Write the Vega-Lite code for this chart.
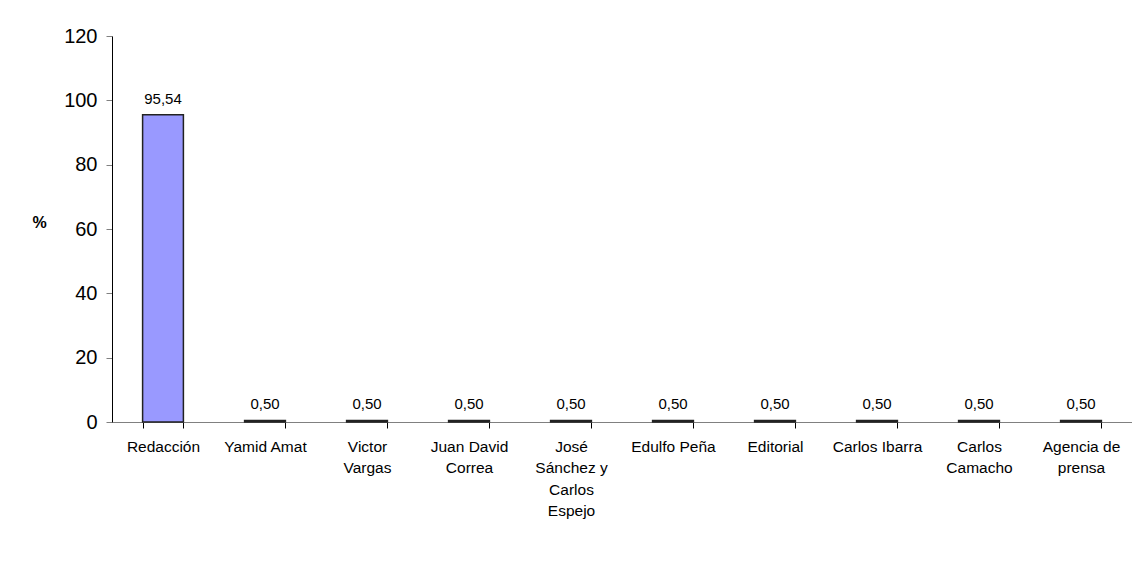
{
  "$schema": "https://vega.github.io/schema/vega-lite/v6.json",
  "autosize": {"type": "none"},
  "width": 1020,
  "height": 386,
  "padding": {"left": 112, "top": 36, "right": 0, "bottom": 151},
  "background": "white",
  "config": {
    "font": "Liberation Sans",
    "view": {"stroke": null},
    "locale": {"number": {"decimal": ",", "thousands": ".", "grouping": [3], "currency": ["", ""]}}
  },
  "data": {
    "values": [
      {"autor": "Redacción", "porcentaje": 95.54},
      {"autor": "Yamid Amat", "porcentaje": 0.5},
      {"autor": "Victor Vargas", "porcentaje": 0.5},
      {"autor": "Juan David Correa", "porcentaje": 0.5},
      {"autor": "José Sánchez y Carlos Espejo", "porcentaje": 0.5},
      {"autor": "Edulfo Peña", "porcentaje": 0.5},
      {"autor": "Editorial", "porcentaje": 0.5},
      {"autor": "Carlos Ibarra", "porcentaje": 0.5},
      {"autor": "Carlos Camacho", "porcentaje": 0.5},
      {"autor": "Agencia de prensa", "porcentaje": 0.5}
    ]
  },
  "encoding": {
    "x": {
      "field": "autor",
      "type": "nominal",
      "sort": null,
      "scale": {"paddingInner": 0.6, "paddingOuter": 0.3},
      "axis": {
        "title": null,
        "labelAngle": 0,
        "labelFontSize": 15.5,
        "labelColor": "#000",
        "labelPadding": 11,
        "labelLineHeight": 21.5,
        "labelLimit": 200,
        "tickBand": "extent",
        "tickSize": 6,
        "tickColor": "#000",
        "domainColor": "#808080",
        "labelExpr": "datum.value == 'Victor Vargas' ? ['Victor','Vargas'] : datum.value == 'Juan David Correa' ? ['Juan David','Correa'] : datum.value == 'José Sánchez y Carlos Espejo' ? ['José','Sánchez y','Carlos','Espejo'] : datum.value == 'Carlos Camacho' ? ['Carlos','Camacho'] : datum.value == 'Agencia de prensa' ? ['Agencia de','prensa'] : datum.value"
      }
    },
    "y": {
      "field": "porcentaje",
      "type": "quantitative",
      "scale": {"domain": [0, 120], "nice": false},
      "axis": {
        "title": "%",
        "titleAngle": 0,
        "titleFontSize": 16,
        "titleFontWeight": "bold",
        "titleAlign": "center",
        "titleBaseline": "middle",
        "titleX": -73,
        "titleY": 186,
        "values": [0, 20, 40, 60, 80, 100, 120],
        "grid": false,
        "labelFontSize": 20,
        "labelColor": "#000",
        "labelPadding": 9,
        "tickSize": 6,
        "tickColor": "#808080",
        "domainColor": "#000"
      }
    }
  },
  "layer": [
    {
      "mark": {"type": "bar", "fill": "#9999FF", "stroke": "#222", "strokeWidth": 1.5}
    },
    {
      "mark": {"type": "text", "baseline": "bottom", "dy": -8, "fontSize": 15, "color": "#000"},
      "encoding": {
        "text": {"field": "porcentaje", "type": "quantitative", "format": ".2f"}
      }
    }
  ]
}
